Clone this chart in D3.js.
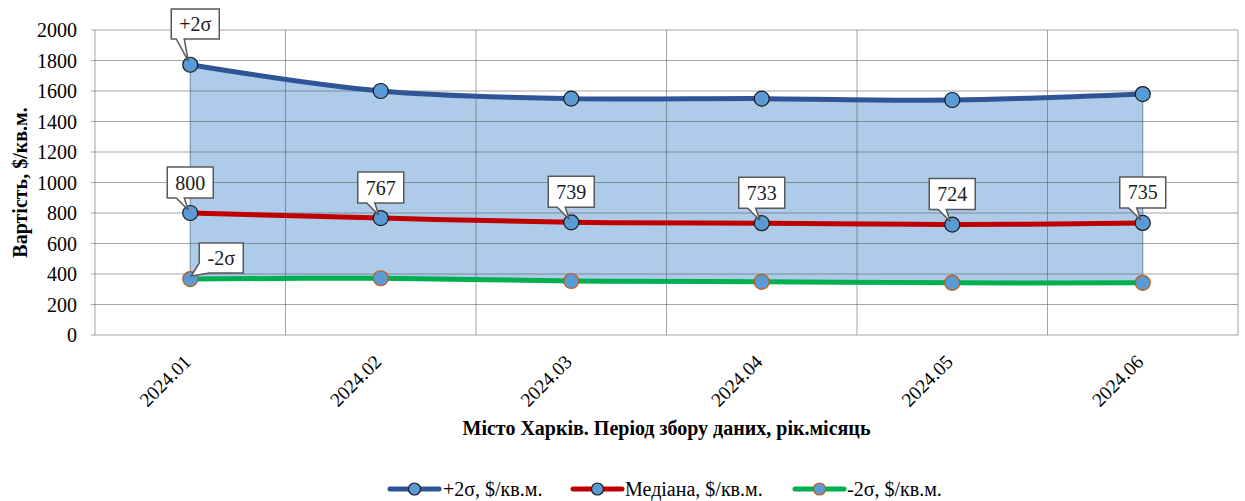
<!DOCTYPE html>
<html>
<head>
<meta charset="utf-8">
<script src="https://cdn.jsdelivr.net/npm/d3@7"></script>
</head>
<body style="margin:0">
<svg id="chart" width="1245" height="501"></svg>
<script>
const months = ["2024.01", "2024.02", "2024.03", "2024.04", "2024.05", "2024.06"];
const upper = [1772, 1600, 1550, 1550, 1541, 1580];
const median = [800, 767, 739, 733, 724, 735];
const lower = [367, 372, 354, 349, 342, 342];
const yTicks = [0, 200, 400, 600, 800, 1000, 1200, 1400, 1600, 1800, 2000];
const seriesNames = ["+2σ, $/кв.м.", "Медіана, $/кв.м.", "-2σ, $/кв.м."];

const FONT = "Liberation Serif";
const svg = d3.select("#chart");
const margin = { left: 95, right: 7, top: 30, bottom: 166 };
const W = 1245, H = 501;
const x0 = margin.left, x1 = W - margin.right;
const yTop = margin.top, yBot = H - margin.bottom;

const x = d3.scaleBand().domain(months).range([x0, x1]);
const cx = (m) => x(m) + x.bandwidth() / 2;
const y = d3.scaleLinear().domain([0, 2000]).range([yBot, yTop]);
const curve = d3.curveCatmullRom.alpha(0.5);

function addText(parent, size, bold) {
  const t = parent.append("text")
    .style("font-family", FONT)
    .style("font-size", size + "px");
  if (bold) t.style("font-weight", "bold");
  return t;
}

// area between +2σ and -2σ
const area = d3.area()
  .x((d, i) => cx(months[i]))
  .y0((d, i) => y(lower[i]))
  .y1((d) => y(d))
  .curve(curve);
svg.append("path")
  .datum(upper)
  .attr("d", area)
  .attr("fill", "#aecbe9")
  .attr("stroke", "#6d88a5")
  .attr("stroke-width", 1);

// grid
const grid = svg.append("g");
yTicks.forEach((t) => {
  grid.append("line")
    .attr("x1", x0 - 4).attr("x2", x1)
    .attr("y1", y(t)).attr("y2", y(t))
    .attr("stroke", "#4d4d4d").attr("stroke-opacity", 0.5);
});
months.concat([null]).forEach((m) => {
  const xv = m ? x(m) : x1;
  grid.append("line")
    .attr("x1", xv).attr("x2", xv)
    .attr("y1", yTop).attr("y2", yBot)
    .attr("stroke", "#4d4d4d").attr("stroke-opacity", 0.5);
});

// y axis labels
yTicks.forEach((d) => {
  addText(svg, 20)
    .attr("x", 77)
    .attr("y", y(d) + 7)
    .attr("text-anchor", "end")
    .text(d);
});

// x axis labels
months.forEach((d) => {
  addText(svg, 19.5)
    .attr("transform", `translate(${cx(d) + 2},${yBot + 28}) rotate(-45)`)
    .attr("text-anchor", "end")
    .text(d);
});

// axis titles
addText(svg, 20, true)
  .attr("transform", `translate(27,${(yTop + yBot) / 2}) rotate(-90)`)
  .attr("text-anchor", "middle")
  .text("Вартість, $/кв.м.");
addText(svg, 20, true)
  .attr("x", (x0 + x1) / 2)
  .attr("y", 435)
  .attr("text-anchor", "middle")
  .text("Місто Харків. Період збору даних, рік.місяць");

// lines
const series = [
  { vals: upper, color: "#2f5597", mstroke: "#1a1a1a" },
  { vals: median, color: "#c00000", mstroke: "#1a1a1a" },
  { vals: lower, color: "#00b050", mstroke: "#c55a11" }
];
const line = d3.line()
  .x((d, i) => cx(months[i]))
  .y((d) => y(d))
  .curve(curve);
series.forEach((s) => {
  svg.append("path")
    .datum(s.vals)
    .attr("d", line)
    .attr("fill", "none")
    .attr("stroke", s.color)
    .attr("stroke-width", 5)
    .attr("stroke-linecap", "round");
});
series.forEach((s) => {
  svg.append("g")
    .selectAll("circle")
    .data(s.vals)
    .join("circle")
    .attr("cx", (d, i) => cx(months[i]))
    .attr("cy", (d) => y(d))
    .attr("r", 7.5)
    .attr("fill", "#5b9bd5")
    .attr("stroke", s.mstroke)
    .attr("stroke-width", 1.2);
});

// callouts
function callout(px, py, text, bx, by, bw, bh, tail) {
  const g = svg.append("g");
  const l = bx, r = bx + bw, t = by, b = by + bh;
  let d;
  if (tail === "bottom") {
    const a = px - 14, c = px - 6;
    d = `M${l},${t}H${r}V${b}H${c}L${px - 2},${py}L${a},${b}H${l}Z`;
  } else {
    // tail from the lower-left corner
    d = `M${l},${t}H${r}V${b}H${l + 10}L${px + 1},${py}L${l},${b - 10}Z`;
  }
  g.append("path")
    .attr("d", d)
    .attr("fill", "#fff")
    .attr("stroke", "#595959")
    .attr("stroke-width", 1.5);
  addText(g, 20)
    .attr("x", (l + r) / 2)
    .attr("y", t + bh / 2 + 7)
    .attr("text-anchor", "middle")
    .attr("fill", "#1a1a1a")
    .text(text);
}

const p0x = cx(months[0]);
callout(p0x, y(upper[0]) - 4, "+2σ", p0x - 19, 9, 48, 30, "bottom");
median.forEach((v, i) => {
  const px = cx(months[i]);
  callout(px, y(v) - 3, String(v), px - 23, y(v) - 46, 46, 31, "bottom");
});
callout(p0x, y(lower[0]) - 3, "-2σ", p0x + 9, 243, 44, 30, "left");

// legend
const legendItems = [
  { x: 388, tx: 443 },
  { x: 571, tx: 625 },
  { x: 793, tx: 847 }
];
legendItems.forEach((li, i) => {
  const s = series[i];
  const g = svg.append("g");
  g.append("line")
    .attr("x1", li.x + 2).attr("x2", li.x + 51)
    .attr("y1", 489).attr("y2", 489)
    .attr("stroke", s.color).attr("stroke-width", 5)
    .attr("stroke-linecap", "round");
  g.append("circle")
    .attr("cx", li.x + 26.5).attr("cy", 489).attr("r", 6)
    .attr("fill", "#5b9bd5").attr("stroke", s.mstroke).attr("stroke-width", 1.2);
  addText(g, 20)
    .attr("x", li.tx).attr("y", 496)
    .text(seriesNames[i]);
});
</script>
</body>
</html>
